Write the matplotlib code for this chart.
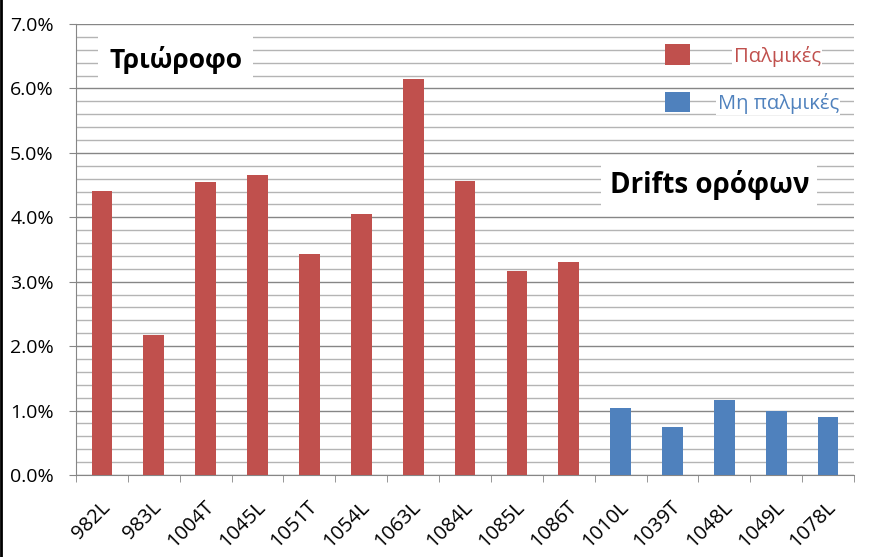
import matplotlib.pyplot as plt
import numpy as np
from matplotlib.patches import Patch
from matplotlib.lines import Line2D
from matplotlib.transforms import ScaledTranslation
from matplotlib.ticker import MultipleLocator, FuncFormatter

plt.rcParams['font.family'] = ['Open Sans', 'DejaVu Sans']

labels = ['982L', '983L', '1004T', '1045L', '1051T', '1054L', '1063L', '1084L',
          '1085L', '1086T', '1010L', '1039T', '1048L', '1049L', '1078L']
drift = [4.41, 2.17, 4.55, 4.65, 3.43, 4.05, 6.14, 4.56,
         3.17, 3.30, 1.04, 0.74, 1.16, 1.00, 0.90]
pulse = [True] * 10 + [False] * 5
series_names = ['Παλμικές', 'Μη παλμικές']

red = '#C0504D'
blue = '#4F81BD'
colors = [red if p else blue for p in pulse]

x = np.arange(len(labels))

fig = plt.figure(figsize=(8.7, 5.57), dpi=100)
ax = fig.add_axes([0.0874, 0.1472, 0.8942, 0.8097])

ax.bar(x, drift, width=0.4, color=colors, zorder=3)

ax.set_xlim(-0.5, len(labels) - 0.5)
ax.set_ylim(0, 7)
ax.yaxis.set_major_locator(MultipleLocator(1))
ax.yaxis.set_minor_locator(MultipleLocator(0.2))
ax.yaxis.set_major_formatter(FuncFormatter(lambda v, p: f'{v:.1f}%'))
ax.grid(which='major', axis='y', color='#868686', lw=1.0, zorder=0)
ax.grid(which='minor', axis='y', color='#B4B4B4', lw=1.0, zorder=0)
ax.tick_params(axis='y', which='major', length=5, color='#868686', labelsize=14, pad=11)
ax.tick_params(axis='y', which='minor', length=0)

ax.set_xticks(x)
ax.set_xticklabels(labels, rotation=45, ha='right', va='center', rotation_mode='anchor')
ax.set_xticks(np.arange(-0.5, len(labels)), minor=True)
ax.tick_params(axis='x', which='major', length=0, labelsize=14.5, pad=21)
ax.tick_params(axis='x', which='minor', length=5, color='#868686')
shift = ScaledTranslation(5 / 100, 0, fig.dpi_scale_trans)
for lbl in ax.get_xticklabels():
    lbl.set_transform(lbl.get_transform() + shift)

for s in ['top', 'right']:
    ax.spines[s].set_visible(False)
for s in ['left', 'bottom']:
    ax.spines[s].set_color('#868686')

handles = [Patch(facecolor=red), Patch(facecolor=blue)]
leg = ax.legend(handles, series_names, loc='upper right', bbox_to_anchor=(1.004, 0.995),
                frameon=False, fontsize=14.5, handlelength=1.2, handleheight=1.2,
                handletextpad=1.4, labelspacing=1.25)
for t, c in zip(leg.get_texts(), [red, blue]):
    t.set_color(c)
    t.set_bbox(dict(facecolor='white', edgecolor='none', pad=1))
leg.get_texts()[0].set_position((16, 0))

ax.text(0.128, 0.92, 'Τριώροφο', transform=ax.transAxes, fontsize=19, fontweight='bold',
        ha='center', va='center', zorder=5,
        bbox=dict(facecolor='white', edgecolor='none', pad=8))
ax.text(0.814, 0.643, 'Drifts ορόφων', transform=ax.transAxes, fontsize=20, fontweight='bold',
        ha='center', va='center', zorder=5,
        bbox=dict(facecolor='white', edgecolor='none', pad=6))

fig.add_artist(Line2D([0.001, 0.001], [0, 1], color='black', lw=2))

fig.savefig('out.png', dpi=100)
